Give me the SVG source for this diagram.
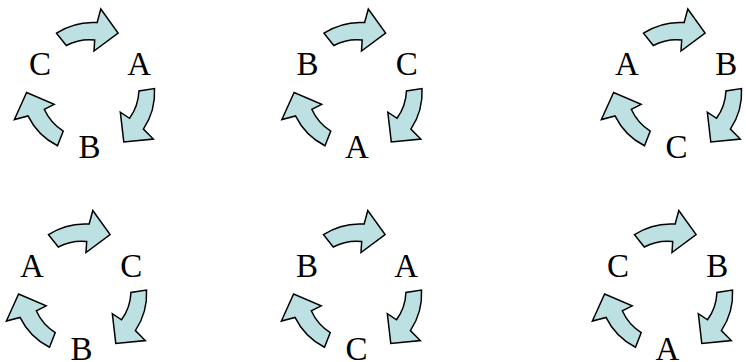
<svg xmlns="http://www.w3.org/2000/svg" xmlns:xlink="http://www.w3.org/1999/xlink" width="746" height="362" viewBox="0 0 746 362">
<style>
.arr{fill:#BDE1E3;stroke:#000;stroke-width:1.5;stroke-linejoin:miter}
.lbl{font-size:33px;fill:#000;text-anchor:middle}
</style>
<defs>
<path id="arr" d="M -33,-56 A 66 66 0 0 1 7.6,-66.6 L 11.3,-80.2 L 28.6,-56.1 L 4.5,-38.2 L 5.2,-49.2 A 50 50 0 0 0 -23.2,-43.7 Z"/>
</defs>
<rect width="746" height="362" fill="#fff"/>
<g font-family="'Liberation Serif', 'Times New Roman', 'DejaVu Serif', serif">
<g id="cycle1" transform="translate(89.5,89.2)">
<g class="arr"><use xlink:href="#arr"/><use xlink:href="#arr" transform="rotate(120)"/><use xlink:href="#arr" transform="rotate(240)"/></g>
<text class="lbl" x="-49.5" y="-14.2">C</text><text class="lbl" x="49.7" y="-14.2">A</text><text class="lbl" x="0" y="69">B</text>
</g>
<g id="cycle2" transform="translate(357,89.2)">
<g class="arr"><use xlink:href="#arr"/><use xlink:href="#arr" transform="rotate(120)"/><use xlink:href="#arr" transform="rotate(240)"/></g>
<text class="lbl" x="-49.5" y="-14.2">B</text><text class="lbl" x="49.7" y="-14.2">C</text><text class="lbl" x="0" y="69">A</text>
</g>
<g id="cycle3" transform="translate(676.5,89.2)">
<g class="arr"><use xlink:href="#arr"/><use xlink:href="#arr" transform="rotate(120)"/><use xlink:href="#arr" transform="rotate(240)"/></g>
<text class="lbl" x="-49.5" y="-14.2">A</text><text class="lbl" x="49.7" y="-14.2">B</text><text class="lbl" x="0" y="69">C</text>
</g>
<g id="cycle4" transform="translate(81.5,290.7)">
<g class="arr"><use xlink:href="#arr"/><use xlink:href="#arr" transform="rotate(120)"/><use xlink:href="#arr" transform="rotate(240)"/></g>
<text class="lbl" x="-49.5" y="-14.2">A</text><text class="lbl" x="49.7" y="-14.2">C</text><text class="lbl" x="0" y="69">B</text>
</g>
<g id="cycle5" transform="translate(356.5,290.7)">
<g class="arr"><use xlink:href="#arr"/><use xlink:href="#arr" transform="rotate(120)"/><use xlink:href="#arr" transform="rotate(240)"/></g>
<text class="lbl" x="-49.5" y="-14.2">B</text><text class="lbl" x="49.7" y="-14.2">A</text><text class="lbl" x="0" y="69">C</text>
</g>
<g id="cycle6" transform="translate(667.5,290.7)">
<g class="arr"><use xlink:href="#arr"/><use xlink:href="#arr" transform="rotate(120)"/><use xlink:href="#arr" transform="rotate(240)"/></g>
<text class="lbl" x="-49.5" y="-14.2">C</text><text class="lbl" x="49.7" y="-14.2">B</text><text class="lbl" x="0" y="69">A</text>
</g>
</g>
</svg>
